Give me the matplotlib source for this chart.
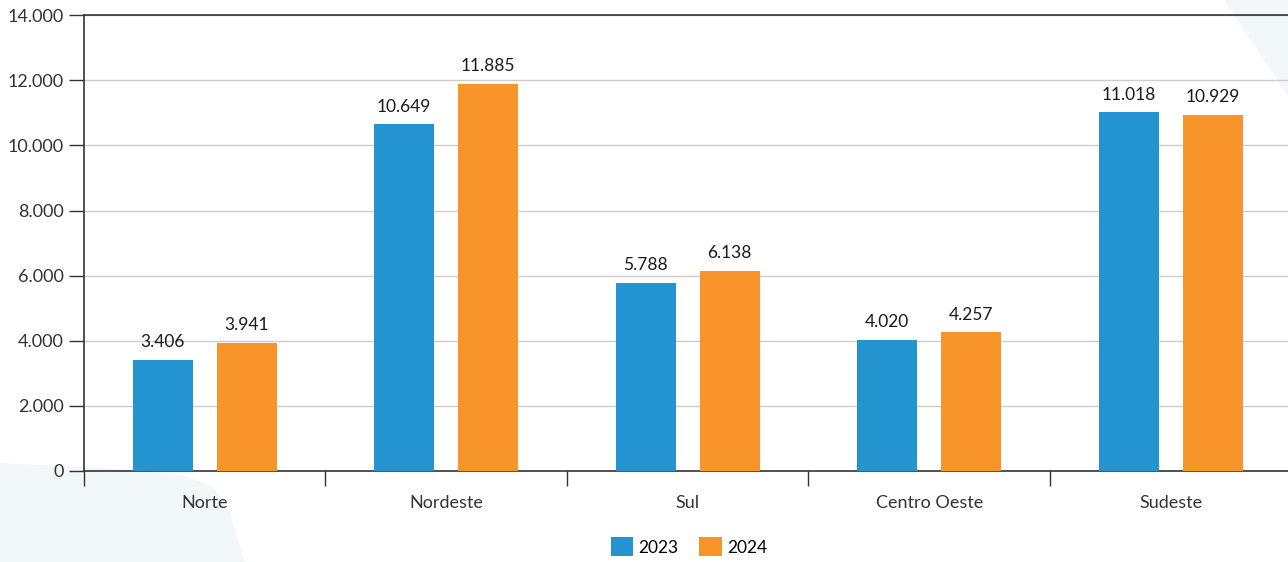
import numpy as np
import matplotlib.pyplot as plt
from matplotlib.patches import Polygon
from matplotlib.ticker import FuncFormatter

plt.rcParams['font.family'] = ['Lato', 'DejaVu Sans']

regioes = ['Norte', 'Nordeste', 'Sul', 'Centro Oeste', 'Sudeste']
v2023 = [3406, 10649, 5788, 4020, 11018]
v2024 = [3941, 11885, 6138, 4257, 10929]
anos = ['2023', '2024']
cores = ['#2394cf', '#f7942a']

def fmt(v):
    return f'{v:,.0f}'.replace(',', '.')

fig = plt.figure(figsize=(12.88, 5.62), dpi=100)

# formas de fundo
fig.patches.append(Polygon([(0, 0), (0, 0.176), (0.09, 0.166), (0.14, 0.155), (0.165, 0.135),
                            (0.178, 0.09), (0.19, 0.0)],
                           closed=True, transform=fig.transFigure, facecolor='#f2f7fa',
                           edgecolor='none', zorder=0))
fig.patches.append(Polygon([(0.95, 1.0), (1.0, 1.0), (1.0, 0.83)],
                           closed=True, transform=fig.transFigure, facecolor='#f2f7fa',
                           edgecolor='none', zorder=0))

ax = fig.add_axes([0.0652, 0.162, 0.9375, 0.811])
ax.set_zorder(2)
ax.patch.set_alpha(0)

x = np.arange(len(regioes))
w = 0.248
off = 0.174
b1 = ax.bar(x - off, v2023, w, color=cores[0], label=anos[0], zorder=3)
b2 = ax.bar(x + off, v2024, w, color=cores[1], label=anos[1], zorder=3)

for bars, vals in ((b1, v2023), (b2, v2024)):
    for b, v in zip(bars, vals):
        ax.annotate(fmt(v), (b.get_x() + b.get_width() / 2, v), xytext=(0, 7),
                    textcoords='offset points', ha='center', va='bottom',
                    fontsize=12.5, color='#1a1a1a')

ax.set_xlim(-0.5, len(regioes) - 0.5)
ax.set_ylim(0, 14000)
ax.set_yticks(np.arange(0, 14001, 2000))
ax.yaxis.set_major_formatter(FuncFormatter(lambda v, p: fmt(v)))
ax.set_xticks(np.arange(len(regioes) + 1) - 0.5)
ax.set_xticklabels([])
ax.set_xticks(x, minor=True)
ax.set_xticklabels(regioes, minor=True)
ax.tick_params(axis='x', which='major', length=11, width=1, color='#333333', direction='out')
ax.tick_params(axis='x', which='minor', length=0, pad=17, labelsize=13, labelcolor='#333333')
ax.tick_params(axis='y', length=11, width=1, color='#333333', labelsize=13, labelcolor='#333333')

ax.grid(axis='y', color='#cccccc', linewidth=1, zorder=0)
for s in ['left', 'bottom', 'top']:
    ax.spines[s].set_color('#333333')
    ax.spines[s].set_linewidth(1.2)
ax.spines['right'].set_visible(False)

fig.legend(handles=[b1, b2], labels=anos, loc='center', bbox_to_anchor=(0.535, 0.027),
           ncol=2, frameon=False, fontsize=12.5, handlelength=1.3, handleheight=1.3,
           handletextpad=0.3, columnspacing=1.2)

fig.savefig('out.png', dpi=100)
